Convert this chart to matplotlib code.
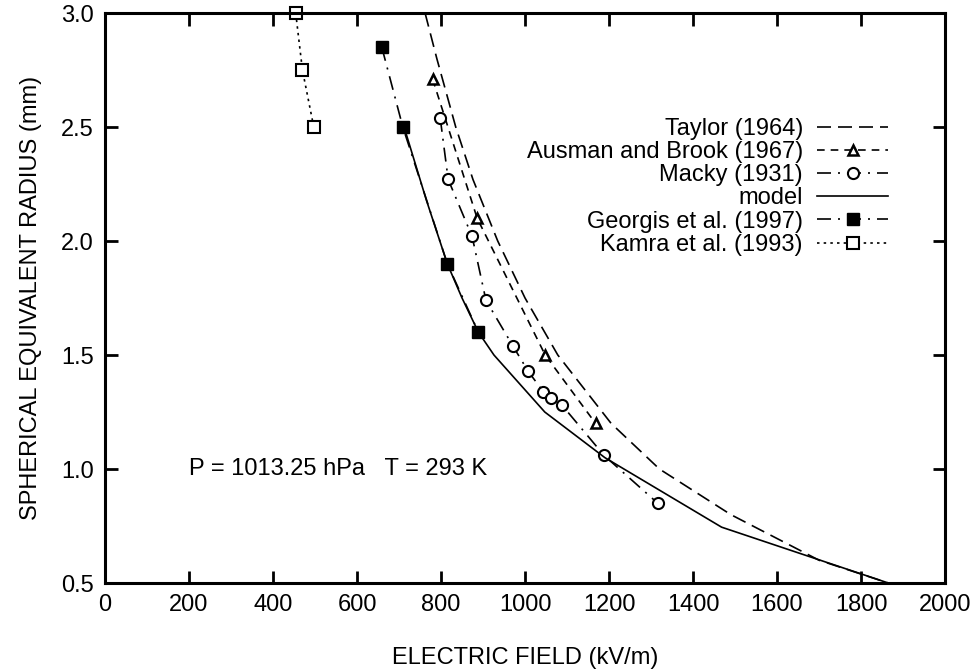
import matplotlib
matplotlib.use('Agg')
import matplotlib.pyplot as plt
import numpy as np

plt.rcParams['font.family'] = ['Liberation Sans', 'DejaVu Sans']

# data (E in kV/m, radius in mm)
taylor_e = [762, 790, 835, 876, 935, 1000, 1078, 1205, 1320, 1490, 1700, 1865]
taylor_r = [3.0, 2.8, 2.5, 2.27, 2.0, 1.75, 1.5, 1.2, 1.0, 0.8, 0.6, 0.5]

ausman_e = [780, 886, 1048, 1168]
ausman_r = [2.71, 2.10, 1.50, 1.20]

macky_e = [798, 817, 874, 907, 971, 1007, 1043, 1062, 1088, 1188, 1316]
macky_r = [2.54, 2.27, 2.02, 1.74, 1.54, 1.43, 1.34, 1.31, 1.28, 1.06, 0.85]

model_e = [712, 765, 815, 850, 889, 926, 1047, 1190, 1468, 1865]
model_r = [2.5, 2.18, 1.9, 1.75, 1.6, 1.5, 1.25, 1.05, 0.745, 0.5]

georgis_e = [659, 709, 815, 889]
georgis_r = [2.85, 2.5, 1.9, 1.6]

kamra_e = [454, 470, 497]
kamra_r = [3.0, 2.75, 2.5]

fig = plt.figure(figsize=(9.76, 6.71), dpi=100)
ax = fig.add_axes([0.1076, 0.1311, 0.8607, 0.8495])

lw = 1.2
ax.plot(taylor_e, taylor_r, color='black', lw=lw, linestyle=(0, (8.4, 4.2)),
        label='Taylor (1964)')
ax.plot(ausman_e, ausman_r, color='black', lw=lw, linestyle=(0, (4.6, 3.6)),
        marker='^', markersize=7.5, markerfacecolor='white', markeredgewidth=1.8,
        label='Ausman and Brook (1967)')
ax.plot(macky_e, macky_r, color='black', lw=lw, linestyle=(0, (8.4, 4.2, 1.2, 4.2)),
        marker='o', markersize=8, markerfacecolor='white', markeredgewidth=1.5,
        label='Macky (1931)')
ax.plot(model_e, model_r, color='black', lw=lw, linestyle='-', label='model')
ax.plot(georgis_e, georgis_r, color='black', lw=lw, linestyle=(0, (8.4, 4.2, 1.2, 4.2)),
        marker='s', markersize=8.5, markerfacecolor='black',
        label='Georgis et al. (1997)')
ax.plot(kamra_e, kamra_r, color='black', lw=lw, linestyle=(0, (1.5, 2.5)),
        marker='s', markersize=8.5, markerfacecolor='white', markeredgewidth=1.5,
        clip_on=False, label='Kamra et al. (1993)')

ax.text(200, 1.0, 'P = 1013.25 hPa   T = 293 K', fontsize=17, va='center', ha='left')

ax.set_xlim(0, 2000)
ax.set_ylim(0.5, 3.0)
ax.set_xticks(np.arange(0, 2001, 200))
ax.set_yticks([0.5, 1.0, 1.5, 2.0, 2.5, 3.0])
ax.set_yticklabels(['0.5', '1.0', '1.5', '2.0', '2.5', '3.0'])
ax.tick_params(direction='in', length=9, width=2, labelsize=17, top=True, right=True, pad=8)
for s in ax.spines.values():
    s.set_linewidth(2.2)

ax.set_xlabel('ELECTRIC FIELD (kV/m)', fontsize=17, labelpad=22)
ax.set_ylabel('SPHERICAL EQUIVALENT RADIUS (mm)', fontsize=17, labelpad=14)

leg = ax.legend(loc='upper right', bbox_to_anchor=(0.932, 0.816), frameon=False,
                markerfirst=False, fontsize=17, handlelength=3.0, handletextpad=0.6,
                labelspacing=0.05, borderpad=0, borderaxespad=0, numpoints=1)

plt.savefig('out.png', dpi=100)
